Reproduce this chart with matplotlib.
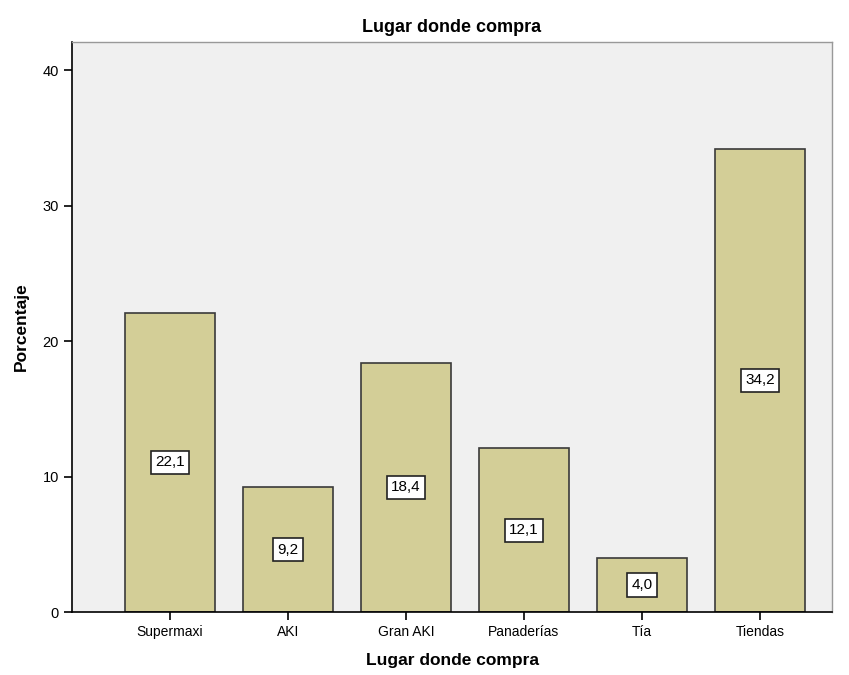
import matplotlib
matplotlib.use("Agg")
import matplotlib.pyplot as plt

categories = ["Supermaxi", "AKI", "Gran AKI", "Panaderías", "Tía", "Tiendas"]
values = [22.1, 9.2, 18.4, 12.1, 4.0, 34.2]
yticks = [0, 10, 20, 30, 40]

plt.rcParams['font.family'] = ['Liberation Sans', 'DejaVu Sans']

fig = plt.figure(figsize=(8.49, 6.75), dpi=100)
ax = fig.add_axes([72/849, 1-612/675, (832-72)/849, (612-42)/675])
ax.set_facecolor('#F0F0F0')

x = list(range(len(categories)))
ax.bar(x, values, width=0.763, color='#D3CE97', edgecolor='#3a3a3a', linewidth=1.2, zorder=2)

# value boxes at mid-height of each bar
for xi, v in zip(x, values):
    label = f"{v:.1f}".replace('.', ',')
    ax.text(xi, v / 2, label, ha='center', va='center', fontsize=11, zorder=3,
            bbox=dict(boxstyle='square,pad=0.3', facecolor='white', edgecolor='#222222', linewidth=1.2))

ax.set_xlim(-0.83, 5.61)
ax.set_ylim(0, 42.1)
ax.set_yticks(yticks)
ax.set_xticks(x)
ax.set_xticklabels(categories, fontsize=10)
ax.tick_params(axis='y', labelsize=10.5, length=6, width=1.2, direction='out', colors='black')
ax.tick_params(axis='x', length=6, width=1.2, direction='out')

for s in ['top', 'right']:
    ax.spines[s].set_color('#999999')
    ax.spines[s].set_linewidth(1)
for s in ['left', 'bottom']:
    ax.spines[s].set_color('black')
    ax.spines[s].set_linewidth(1.2)

ax.set_title("Lugar donde compra", fontsize=13, fontweight='bold', pad=7)
ax.set_xlabel("Lugar donde compra", fontsize=12.5, fontweight='bold', labelpad=10)
ax.set_ylabel("Porcentaje", fontsize=12.5, fontweight='bold', labelpad=10)

fig.savefig("out.png", dpi=100)
